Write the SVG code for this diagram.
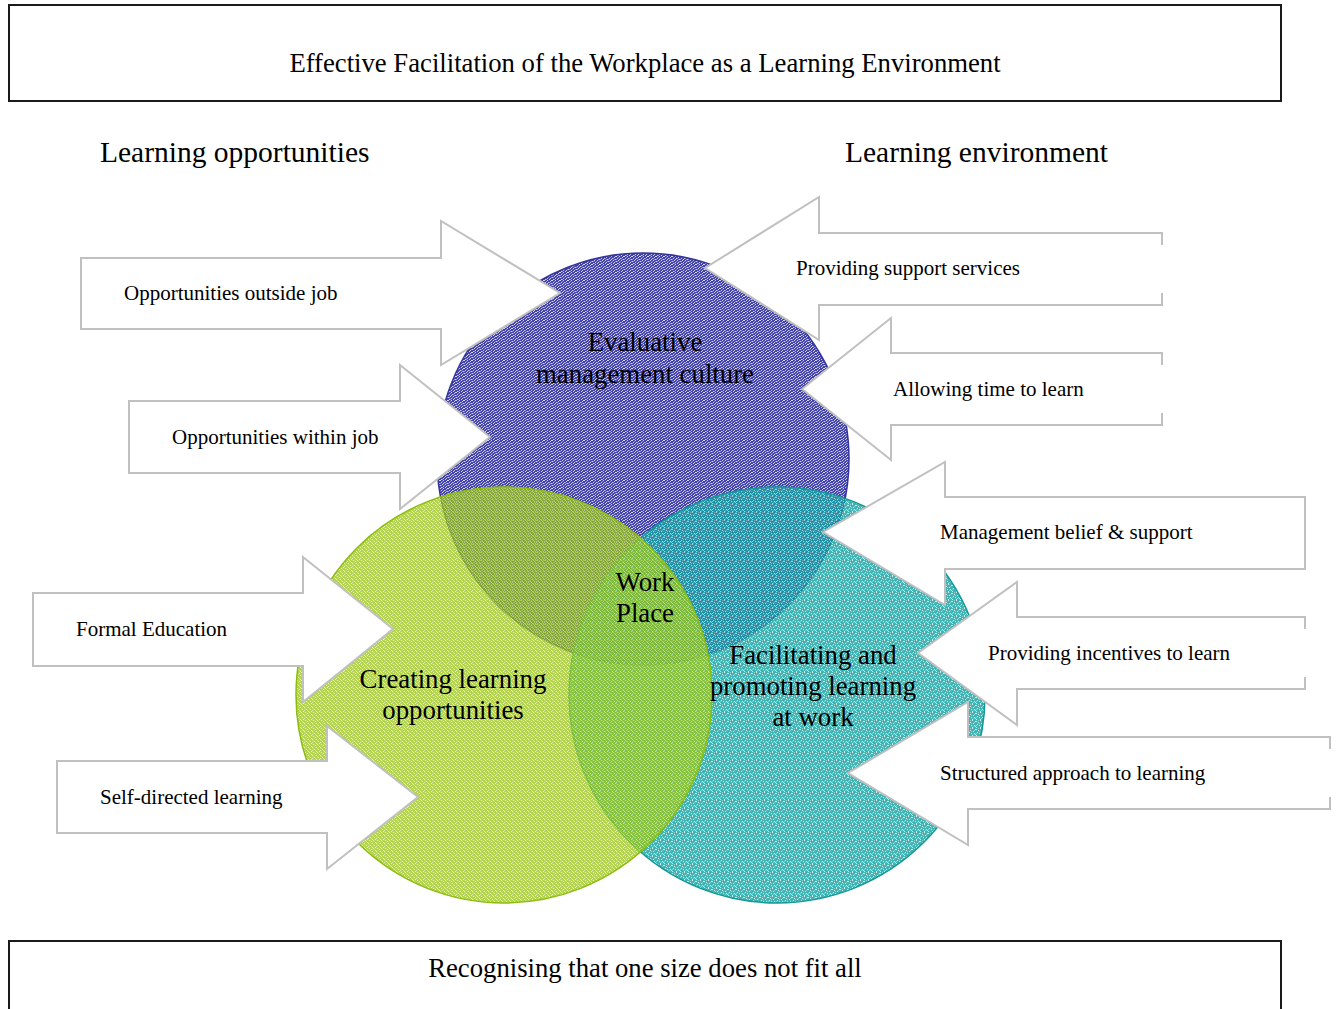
<svg xmlns="http://www.w3.org/2000/svg" width="1338" height="1009" viewBox="0 0 1338 1009">
  <style>
    .frame { fill: #ffffff; stroke: #1a1a1a; stroke-width: 2; }
    .serif { font-family: "Liberation Serif", "Times New Roman", serif; fill: #000000; }
    .title { font-size: 26.7px; text-anchor: middle; }
    .heading { font-size: 29.5px; }
    .lbl { font-size: 21px; dominant-baseline: central; }
    .hub { font-size: 26.8px; text-anchor: middle; }
    .arrow-fill { fill: #ffffff; stroke: none; }
    .arrow-line { fill: none; stroke: #c0c0c0; stroke-width: 2; stroke-linejoin: miter; }
  </style>
  <defs>
    <!-- speckled fills for the three overlapping circles -->
    <pattern id="speckBlue" width="8" height="8" patternUnits="userSpaceOnUse">
      <rect width="8" height="8" fill="#4242a8"/>
      <g fill="#d4d5f4">
        <rect x="0" y="0" width="1" height="1"/><rect x="3" y="0" width="1" height="1"/><rect x="6" y="1" width="1" height="1"/>
        <rect x="1" y="2" width="1" height="1"/><rect x="4" y="2" width="1" height="1"/><rect x="7" y="3" width="1" height="1"/>
        <rect x="2" y="4" width="1" height="1"/><rect x="5" y="4" width="1" height="1"/><rect x="0" y="5" width="1" height="1"/>
        <rect x="3" y="6" width="1" height="1"/><rect x="6" y="6" width="1" height="1"/><rect x="1" y="7" width="1" height="1"/>
        <rect x="5" y="7" width="1" height="1"/><rect x="7" y="0" width="1" height="1"/><rect x="3" y="3" width="1" height="1"/>
      </g>
      <g fill="#8c8ed2">
        <rect x="2" y="1" width="1" height="1"/><rect x="5" y="2" width="1" height="1"/><rect x="0" y="3" width="1" height="1"/>
        <rect x="4" y="5" width="1" height="1"/><rect x="7" y="5" width="1" height="1"/><rect x="2" y="7" width="1" height="1"/>
        <rect x="6" y="3" width="1" height="1"/><rect x="1" y="5" width="1" height="1"/>
      </g>
    </pattern>
    <pattern id="speckGreen" width="8" height="8" patternUnits="userSpaceOnUse">
      <rect width="8" height="8" fill="#98c414"/>
      <g fill="#e2f1a8">
        <rect x="1" y="0" width="1" height="1"/><rect x="5" y="0" width="1" height="1"/><rect x="3" y="1" width="1" height="1"/>
        <rect x="7" y="2" width="1" height="1"/><rect x="0" y="3" width="1" height="1"/><rect x="4" y="3" width="1" height="1"/>
        <rect x="2" y="5" width="1" height="1"/><rect x="6" y="5" width="1" height="1"/><rect x="0" y="6" width="1" height="1"/>
        <rect x="4" y="7" width="1" height="1"/><rect x="7" y="7" width="1" height="1"/>
      </g>
      <g fill="#bcdb58">
        <rect x="6" y="1" width="1" height="1"/><rect x="2" y="2" width="1" height="1"/><rect x="5" y="4" width="1" height="1"/>
        <rect x="1" y="4" width="1" height="1"/><rect x="3" y="6" width="1" height="1"/>
      </g>
    </pattern>
    <pattern id="speckTeal" width="8" height="8" patternUnits="userSpaceOnUse">
      <rect width="8" height="8" fill="#12a0a0"/>
      <g fill="#c4ecec">
        <rect x="0" y="1" width="1" height="1"/><rect x="4" y="0" width="1" height="1"/><rect x="7" y="1" width="1" height="1"/>
        <rect x="2" y="2" width="1" height="1"/><rect x="5" y="3" width="1" height="1"/><rect x="1" y="4" width="1" height="1"/>
        <rect x="3" y="5" width="1" height="1"/><rect x="6" y="5" width="1" height="1"/><rect x="0" y="7" width="1" height="1"/>
        <rect x="4" y="7" width="1" height="1"/><rect x="7" y="6" width="1" height="1"/>
      </g>
      <g fill="#66c6c6">
        <rect x="2" y="0" width="1" height="1"/><rect x="6" y="2" width="1" height="1"/><rect x="3" y="3" width="1" height="1"/>
        <rect x="0" y="5" width="1" height="1"/><rect x="5" y="6" width="1" height="1"/>
      </g>
    </pattern>
  </defs>

  <rect width="1338" height="1009" fill="#ffffff"/>

  <!-- title banner -->
  <g id="title-box">
    <rect class="frame" x="9" y="5" width="1272" height="96"/>
    <text class="serif title" x="645" y="72">Effective Facilitation of the Workplace as a Learning Environment</text>
  </g>

  <!-- column headings -->
  <g id="heading-opportunities">
    <text class="serif heading" x="100" y="162">Learning opportunities</text>
  </g>
  <g id="heading-environment">
    <text class="serif heading" x="845" y="162">Learning environment</text>
  </g>

  <!-- Venn circles -->
  <g id="circle-evaluative">
    <circle cx="643" cy="459" r="206" fill="url(#speckBlue)" stroke="#34349a" stroke-width="1.5"/>
  </g>
  <g id="circle-facilitating">
    <circle cx="777" cy="695" r="208" fill="url(#speckTeal)" fill-opacity="0.8" stroke="#139898" stroke-width="1.5"/>
  </g>
  <g id="circle-creating">
    <circle cx="504" cy="695" r="208" fill="url(#speckGreen)" fill-opacity="0.74" stroke="#8cbc10" stroke-width="1.5"/>
  </g>

  <!-- block arrows feeding the circles -->
  <g id="connectors">
    <g id="arrow-outside-job">
      <polygon class="arrow-fill" points="81,258 441,258 441,221 560,293 441,365 441,329 81,329"/>
      <polygon class="arrow-line" points="81,258 441,258 441,221 560,293 441,365 441,329 81,329"/>
      <text class="serif lbl" x="124" y="293">Opportunities outside job</text>
    </g>
    <g id="arrow-within-job">
      <polygon class="arrow-fill" points="129,401 400,401 400,365 490,437 400,509 400,473 129,473"/>
      <polygon class="arrow-line" points="129,401 400,401 400,365 490,437 400,509 400,473 129,473"/>
      <text class="serif lbl" x="172" y="437">Opportunities within job</text>
    </g>
    <g id="arrow-formal-education">
      <polygon class="arrow-fill" points="33,593 303,593 303,557 393,629 303,702 303,666 33,666"/>
      <polygon class="arrow-line" points="33,593 303,593 303,557 393,629 303,702 303,666 33,666"/>
      <text class="serif lbl" x="76" y="629">Formal Education</text>
    </g>
    <g id="arrow-self-directed">
      <polygon class="arrow-fill" points="57,761 327,761 327,726 418,797 327,869 327,833 57,833"/>
      <polygon class="arrow-line" points="57,761 327,761 327,726 418,797 327,869 327,833 57,833"/>
      <text class="serif lbl" x="100" y="797">Self-directed learning</text>
    </g>

    <g id="arrow-support-services">
      <polygon class="arrow-fill" points="705,268 819,197 819,233 1162,233 1162,305 819,305 819,340"/>
      <path class="arrow-line" d="M1162,245 V233 H819 V197 L705,268 L819,340 V305 H1162 V293"/>
      <text class="serif lbl" x="796" y="268">Providing support services</text>
    </g>
    <g id="arrow-time-to-learn">
      <polygon class="arrow-fill" points="802,389 891,318 891,353 1162,353 1162,425 891,425 891,460"/>
      <path class="arrow-line" d="M1162,365 V353 H891 V318 L802,389 L891,460 V425 H1162 V413"/>
      <text class="serif lbl" x="893" y="389">Allowing time to learn</text>
    </g>
    <g id="arrow-management-belief">
      <polygon class="arrow-fill" points="823,532 945,462 945,497 1305,497 1305,569 945,569 945,605"/>
      <polygon class="arrow-line" points="823,532 945,462 945,497 1305,497 1305,569 945,569 945,605"/>
      <text class="serif lbl" x="940" y="532">Management belief &amp; support</text>
    </g>
    <g id="arrow-incentives">
      <polygon class="arrow-fill" points="918,653 1017,582 1017,617 1305,617 1305,689 1017,689 1017,725"/>
      <path class="arrow-line" d="M1305,629 V617 H1017 V582 L918,653 L1017,725 V689 H1305 V677"/>
      <text class="serif lbl" x="988" y="653">Providing incentives to learn</text>
    </g>
    <g id="arrow-structured">
      <polygon class="arrow-fill" points="848,773 968,702 968,737 1330,737 1330,809 968,809 968,845"/>
      <path class="arrow-line" d="M1330,749 V737 H968 V702 L848,773 L968,845 V809 H1330 V797"/>
      <text class="serif lbl" x="940" y="773">Structured approach to learning</text>
    </g>
  </g>

  <!-- circle captions -->
  <g id="label-evaluative">
    <text class="serif hub" x="645" y="351">Evaluative</text>
    <text class="serif hub" x="645" y="383">management culture</text>
  </g>
  <g id="label-workplace">
    <text class="serif hub" x="645" y="591">Work</text>
    <text class="serif hub" x="645" y="622">Place</text>
  </g>
  <g id="label-creating">
    <text class="serif hub" x="453" y="688">Creating learning</text>
    <text class="serif hub" x="453" y="719">opportunities</text>
  </g>
  <g id="label-facilitating">
    <text class="serif hub" x="813" y="664">Facilitating and</text>
    <text class="serif hub" x="813" y="695">promoting learning</text>
    <text class="serif hub" x="813" y="726">at work</text>
  </g>

  <!-- closing banner -->
  <g id="footer-box">
    <rect class="frame" x="9" y="941" width="1272" height="90"/>
    <text class="serif title" x="645" y="977">Recognising that one size does not fit all</text>
  </g>
</svg>
